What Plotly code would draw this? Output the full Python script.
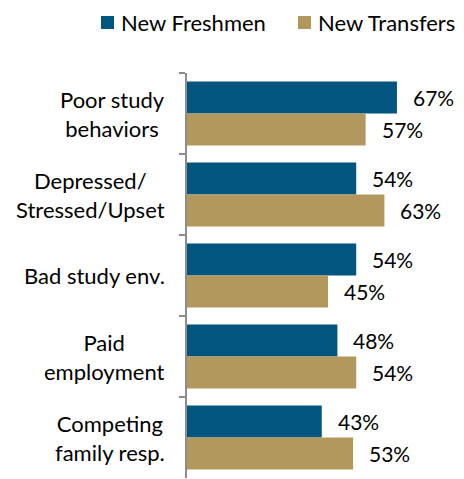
import plotly.graph_objects as go

categories = ["Poor study<br>behaviors", "Depressed/<br>Stressed/Upset", "Bad study env.",
              "Paid<br>employment", "Competing<br>family resp."]
freshmen = [67, 54, 54, 48, 43]
transfers = [57, 63, 45, 54, 53]
series_names = ["New Freshmen", "New Transfers"]
colors = ["#02557F", "#B3985E"]
FONT = "Lato, 'DejaVu Sans', sans-serif"

W, H = 464, 479
ML, MR, MT, MB = 187, 0, 73, 1
PW, PH = W - ML - MR, H - MT - MB


def px_x(px):
    return (px - ML) / PW


def px_y(py):
    return (H - MB - py) / PH


fig = go.Figure()
for name, vals, col in zip(series_names, [freshmen, transfers], colors):
    fig.add_trace(go.Bar(
        y=categories, x=vals, name=name, orientation="h",
        marker=dict(color=col, line=dict(width=0)),
        hoverinfo="skip", showlegend=False,
    ))

# value labels just past each bar end
offsets = [-0.2, 0.2]
for k, vals in enumerate([freshmen, transfers]):
    for i, v in enumerate(vals):
        fig.add_annotation(
            x=v, y=i + offsets[k], xref="x", yref="y",
            text=f"{v}%", showarrow=False, xanchor="left", xshift=14,
            font=dict(family=FONT, size=21, color="#000000"),
        )

# category labels, centered lines, to the left of the axis
for i, c in enumerate(categories):
    fig.add_annotation(
        x=0, y=i, xref="paper", yref="y", text=c, showarrow=False,
        xanchor="right", align="center", xshift=-20,
        font=dict(family=FONT, size=22, color="#000000"),
    )

# legend row across the top: colour square + series name
legend_x = [101, 298]
for name, col, lx in zip(series_names, colors, legend_x):
    fig.add_shape(
        type="rect", xref="paper", yref="paper",
        x0=px_x(lx), x1=px_x(lx + 13), y0=px_y(29), y1=px_y(16),
        fillcolor=col, line=dict(width=0),
    )
    fig.add_annotation(
        x=px_x(lx + 18), y=px_y(22.5), xref="paper", yref="paper",
        text=name, showarrow=False, xanchor="left", yanchor="middle",
        font=dict(family=FONT, size=22, color="#000000"),
    )

fig.update_layout(
    width=W, height=H,
    margin=dict(l=ML, r=MR, t=MT, b=MB),
    barmode="group", bargap=0.21, bargroupgap=0,
    plot_bgcolor="white", paper_bgcolor="white",
    font=dict(family=FONT, color="#000000"),
    showlegend=False,
    xaxis=dict(range=[0, 88.4], showgrid=False, zeroline=False,
               showticklabels=False, showline=False, fixedrange=True),
    yaxis=dict(autorange="reversed", showgrid=False, zeroline=False,
               showticklabels=False, showline=True, linecolor="#8C8C8C",
               linewidth=2, ticks="outside", ticklen=6, tickcolor="#8C8C8C",
               tickwidth=2, tickson="boundaries", mirror=False),
)

fig.write_html("out.html")
